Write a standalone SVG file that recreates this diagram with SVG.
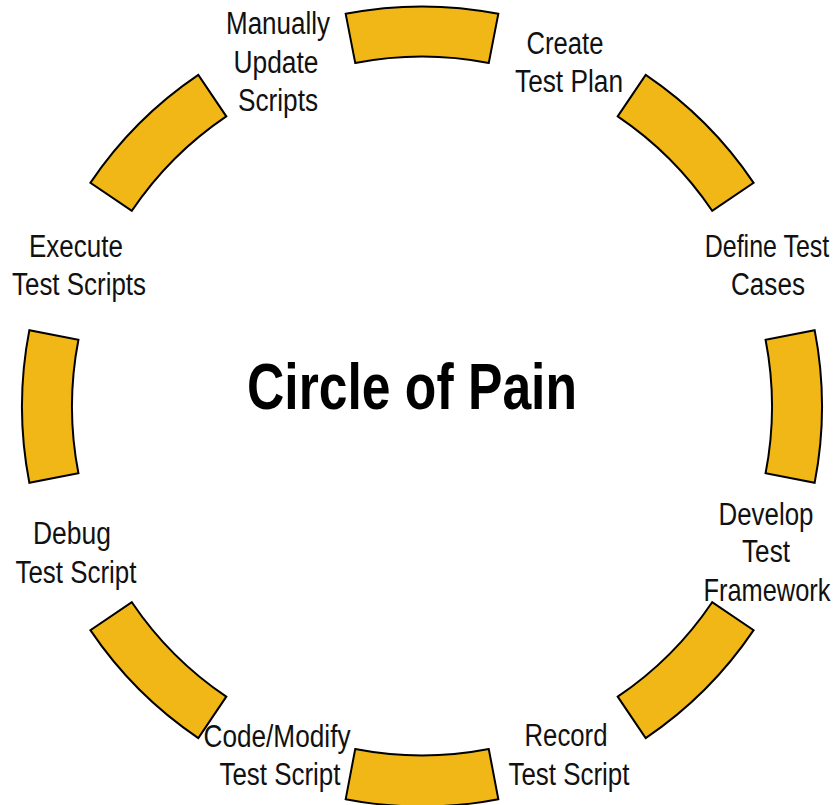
<svg xmlns="http://www.w3.org/2000/svg" width="838" height="805" viewBox="0 0 838 805">
  <style>
    .seg { fill: #F0B716; stroke: #000; stroke-width: 2; stroke-linejoin: miter; }
    .lbl { font-family: "Liberation Sans Narrow", "Liberation Sans", Arial, sans-serif; font-size: 31px; fill: #111; text-anchor: middle; }
    .title { font-family: "Liberation Sans Narrow", "Liberation Sans", Arial, sans-serif; font-size: 64px; font-weight: bold; fill: #000; text-anchor: middle; }
  </style>
  <rect width="838" height="805" fill="#fff"/>
  <g id="connectors">
    <path class="seg" d="M 345.68 13.85 A 400 400 0 0 1 498.32 13.85 L 488.78 62.93 A 350 350 0 0 0 355.22 62.93 Z"/>
    <path class="seg" d="M 645.68 74.88 A 400 400 0 0 1 753.62 182.82 L 712.16 210.78 A 350 350 0 0 0 617.72 116.34 Z"/>
    <path class="seg" d="M 814.65 330.18 A 400 400 0 0 1 814.65 482.82 L 765.57 473.28 A 350 350 0 0 0 765.57 339.72 Z"/>
    <path class="seg" d="M 753.62 630.18 A 400 400 0 0 1 645.68 738.12 L 617.72 696.66 A 350 350 0 0 0 712.16 602.22 Z"/>
    <path class="seg" d="M 498.32 799.15 A 400 400 0 0 1 345.68 799.15 L 355.22 749.07 A 350 350 0 0 0 488.78 749.07 Z"/>
    <path class="seg" d="M 198.32 738.12 A 400 400 0 0 1 90.38 630.18 L 131.84 602.22 A 350 350 0 0 0 226.28 696.66 Z"/>
    <path class="seg" d="M 29.35 482.82 A 400 400 0 0 1 29.35 330.18 L 78.43 339.72 A 350 350 0 0 0 78.43 473.28 Z"/>
    <path class="seg" d="M 90.38 182.82 A 400 400 0 0 1 198.32 74.88 L 226.28 116.34 A 350 350 0 0 0 131.84 210.78 Z"/>
  </g>
  <g id="title">
    <text class="title" x="412" y="409" textLength="330" lengthAdjust="spacingAndGlyphs">Circle of Pain</text>
  </g>
  <g id="create-test-plan">
    <text class="lbl" x="565" y="54" textLength="77" lengthAdjust="spacingAndGlyphs">Create</text>
    <text class="lbl" x="569" y="92" textLength="108" lengthAdjust="spacingAndGlyphs">Test Plan</text>
  </g>
  <g id="define-test-cases">
    <text class="lbl" transform="translate(767,257) scale(0.807,1)" x="0" y="0">Define Test</text>
    <text class="lbl" x="768" y="295" textLength="74" lengthAdjust="spacingAndGlyphs">Cases</text>
  </g>
  <g id="develop-test-framework">
    <text class="lbl" x="766" y="525" textLength="95" lengthAdjust="spacingAndGlyphs">Develop</text>
    <text class="lbl" x="766" y="562" textLength="48" lengthAdjust="spacingAndGlyphs">Test</text>
    <text class="lbl" transform="translate(767,601) scale(0.819,1)" x="0" y="0">Framework</text>
  </g>
  <g id="record-test-script">
    <text class="lbl" x="566" y="746" textLength="83" lengthAdjust="spacingAndGlyphs">Record</text>
    <text class="lbl" x="569" y="785" textLength="121" lengthAdjust="spacingAndGlyphs">Test Script</text>
  </g>
  <g id="code-modify-test-script">
    <text class="lbl" x="277" y="747" textLength="147" lengthAdjust="spacingAndGlyphs">Code/Modify</text>
    <text class="lbl" x="280" y="785" textLength="121" lengthAdjust="spacingAndGlyphs">Test Script</text>
  </g>
  <g id="debug-test-script">
    <text class="lbl" x="72" y="544" textLength="78" lengthAdjust="spacingAndGlyphs">Debug</text>
    <text class="lbl" x="76" y="583" textLength="121" lengthAdjust="spacingAndGlyphs">Test Script</text>
  </g>
  <g id="execute-test-scripts">
    <text class="lbl" x="76" y="257" textLength="94" lengthAdjust="spacingAndGlyphs">Execute</text>
    <text class="lbl" x="79" y="295" textLength="134" lengthAdjust="spacingAndGlyphs">Test Scripts</text>
  </g>
  <g id="manually-update-scripts">
    <text class="lbl" x="278" y="34" textLength="104" lengthAdjust="spacingAndGlyphs">Manually</text>
    <text class="lbl" x="276" y="73" textLength="85" lengthAdjust="spacingAndGlyphs">Update</text>
    <text class="lbl" x="278" y="111" textLength="80" lengthAdjust="spacingAndGlyphs">Scripts</text>
  </g>
</svg>
